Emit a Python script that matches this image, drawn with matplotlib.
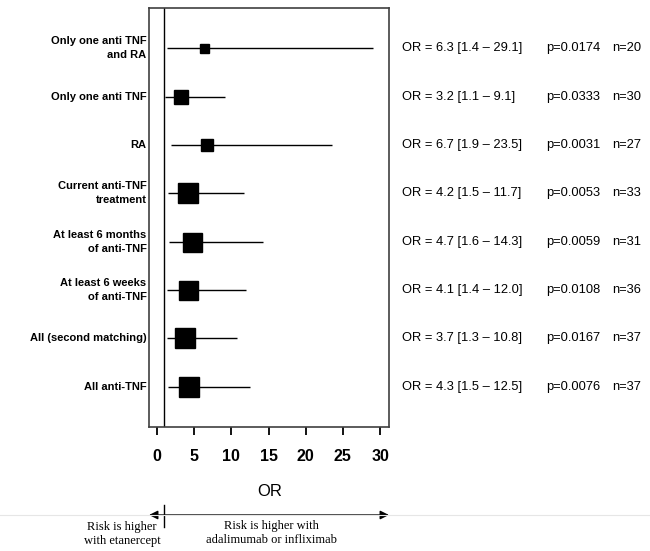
import matplotlib
matplotlib.use("Agg")
import matplotlib.pyplot as plt
import matplotlib.transforms as mtrans

labels = ["Only one anti TNF\nand RA", "Only one anti TNF", "RA",
          "Current anti-TNF\ntreatment", "At least 6 months\nof anti-TNF",
          "At least 6 weeks\nof anti-TNF", "All (second matching)", "All anti-TNF"]
odds = [6.3, 3.2, 6.7, 4.2, 4.7, 4.1, 3.7, 4.3]
ci_low = [1.4, 1.1, 1.9, 1.5, 1.6, 1.4, 1.3, 1.5]
ci_high = [29.1, 9.1, 23.5, 11.7, 14.3, 12.0, 10.8, 12.5]
pvals = ["0.0174", "0.0333", "0.0031", "0.0053", "0.0059", "0.0108", "0.0167", "0.0076"]
ns = [20, 30, 27, 33, 31, 36, 37, 37]
xticks = [0, 5, 10, 15, 20, 25, 30]

marker_px = [9, 14, 12, 20, 19, 19, 20, 20]

fig = plt.figure(figsize=(6.5, 5.51), dpi=100)
W, H = 650, 551
ax = fig.add_axes([149 / W, 1 - 427 / H, (389 - 149) / W, (427 - 8) / H])

n = len(labels)
ys = [n - i for i in range(n)]

for i in range(n):
    y = ys[i]
    ax.plot([ci_low[i], ci_high[i]], [y, y], color="black", lw=1.0, solid_capstyle="butt")
    ax.plot([odds[i]], [y], marker="s", color="black", markersize=marker_px[i] * 0.72,
            linestyle="none")

ax.axvline(1, color="black", lw=1.0)
ax.set_xlim(-1.08, 31.2)
ax.set_ylim(0.17, 8.83)
ax.set_yticks([])
ax.set_xticks(xticks)
ax.set_xticklabels([str(t) for t in xticks], fontsize=11.5, fontweight="bold",
                   family="Liberation Sans")
ax.tick_params(axis="x", direction="out", length=6, width=1.3, pad=10, colors="black")
for s in ax.spines.values():
    s.set_color("#404040")
    s.set_linewidth(1.2)

# row labels
trans_lab = mtrans.blended_transform_factory(ax.transAxes, ax.transData)
for i in range(n):
    ax.text(-0.01, ys[i], labels[i], transform=trans_lab, ha="right", va="center",
            multialignment="right", fontsize=8, fontweight="bold",
            family="Liberation Sans", linespacing=1.5)

# right-side statistics
trans_r = mtrans.blended_transform_factory(fig.transFigure, ax.transData)
for i in range(n):
    ax.text(402 / W, ys[i], f"OR = {odds[i]} [{ci_low[i]} \u2013 {ci_high[i]}]",
            transform=trans_r, ha="left", va="center", fontsize=9.3,
            family="Liberation Sans", clip_on=False)
    ax.text(546 / W, ys[i], f"p={pvals[i]}", transform=trans_r, ha="left", va="center",
            fontsize=9.3, family="Liberation Sans", clip_on=False)
    ax.text(612 / W, ys[i], f"n={ns[i]}", transform=trans_r, ha="left", va="center",
            fontsize=9.3, family="Liberation Sans", clip_on=False)

# OR axis title
fig.text(270 / W, 1 - 492 / H, "OR", ha="center", va="center", fontsize=12,
         family="Liberation Sans")

# bottom risk arrow
fig.add_artist(plt.Line2D([0, 1], [1 - 515 / H, 1 - 515 / H], transform=fig.transFigure,
                          color="#e6e6e6", lw=0.8))
trans_b = mtrans.blended_transform_factory(ax.transData, fig.transFigure)
ya = 1 - 515 / H
for xend in (-1.08, 31.2):
    ax.annotate("", xy=(xend, ya), xytext=(1, ya), xycoords=trans_b, textcoords=trans_b,
                arrowprops=dict(arrowstyle="-|>", color="black", lw=1.0,
                                mutation_scale=13, shrinkA=0, shrinkB=0),
                annotation_clip=False)
ax.plot([1, 1], [1 - 505 / H, 1 - 527 / H], transform=trans_b, color="black", lw=1.0,
        clip_on=False)
fig.text(122 / W, 1 - 534 / H, "Risk is higher\nwith etanercept", ha="center", va="center",
         fontsize=9, family="Liberation Serif", linespacing=1.3)
fig.text(271 / W, 1 - 533 / H, "Risk is higher with\nadalimumab or infliximab",
         ha="center", va="center", fontsize=9, family="Liberation Serif", linespacing=1.3)

fig.savefig("out.png", dpi=100, facecolor="white")
